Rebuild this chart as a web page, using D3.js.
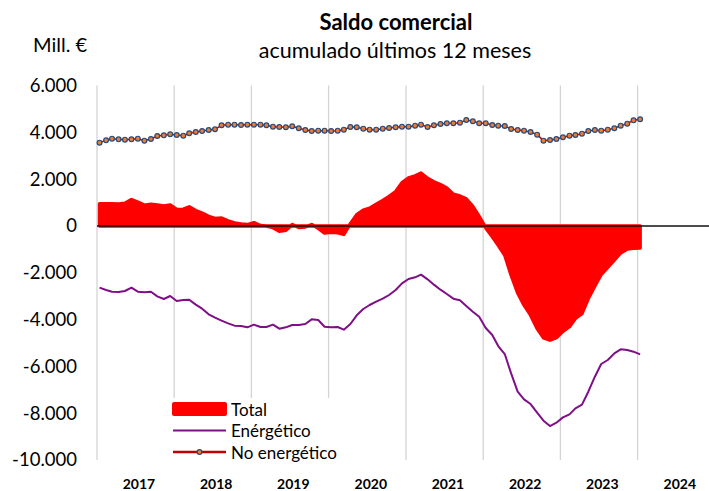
<!DOCTYPE html>
<html>
<head>
<meta charset="utf-8">
<script src="https://cdn.jsdelivr.net/npm/d3@7"></script>
<style>
  body { margin: 0; background: #fff; }
  svg { display: block; font-family: Lato, "Liberation Sans", sans-serif; }
</style>
</head>
<body>
<svg id="chart" width="709" height="491"></svg>
<script>
// DATOS (mensual, ene-2017 .. ene-2024), mill. €
////////////////////////////
var anios = [2017, 2018, 2019, 2020, 2021, 2022, 2023, 2024];
var ticksY = [6000, 4000, 2000, 0, -2000, -4000, -6000, -8000, -10000];

var total = [950, 950, 950, 940, 970, 1130, 1020, 890, 930, 900,
  860, 900, 710, 720, 820, 660, 550, 410, 320, 340,
  220, 130, 90, 60, 140, 20, 0, -70, -220, -180,
  60, -60, -40, 60, -100, -300, -270, -290, -360, 100,
  480, 680, 760, 930, 1090, 1260, 1470,
  1850, 2050, 2140, 2260, 2040, 1890, 1770, 1620, 1360, 1280,
  1160, 840, 410, -80, -460, -820, -1250, -2100, -2860, -3380,
  -3810, -4380, -4780, -4880, -4770, -4500, -4300, -3950, -3740, -3100,
  -2560, -2070, -1770, -1460, -1150, -980, -950, -940];

var energetico = [-2636, -2735, -2807, -2821, -2778, -2636, -2807, -2835, -2807, -3006,
  -3120, -2992, -3206, -3163, -3149, -3362, -3533, -3775, -3918, -4046,
  -4160, -4260, -4274, -4331, -4217, -4317, -4317, -4217, -4388, -4331,
  -4231, -4231, -4189, -3989, -4018, -4303, -4331, -4317, -4431, -4189,
  -3818, -3547, -3376, -3234, -3106, -2949, -2735, -2450, -2265,
  -2194, -2080, -2279, -2507, -2721, -2906, -3106, -3177, -3419, -3661,
  -3875, -4359, -4659, -5129, -5471, -6297, -7081, -7408, -7608, -7978,
  -8320, -8548, -8406, -8178, -8050, -7793, -7636, -7081, -6440, -5898,
  -5727, -5442, -5271, -5300, -5371, -5485];

var noEnergetico = [3562, 3661, 3732, 3704, 3690, 3704, 3732, 3647, 3718, 3847,
  3875, 3918, 3889, 3861, 3961, 4018, 4060, 4103, 4132, 4303,
  4331, 4331, 4317, 4331, 4331, 4331, 4303, 4246, 4231, 4217,
  4260, 4175, 4103, 4060, 4075, 4075, 4060, 4075, 4117, 4231,
  4217, 4160, 4117, 4117, 4160, 4189, 4217,
  4246, 4246, 4288, 4331, 4231, 4303, 4360, 4388, 4388, 4417,
  4530, 4474, 4388, 4388, 4317, 4288, 4274, 4146, 4103, 4075,
  4018, 3904, 3647, 3676, 3718, 3790, 3861, 3889, 3946, 4060,
  4103, 4075, 4117, 4175, 4288, 4374, 4516, 4559];

var series = ['Total', 'Enérgético', 'No energético'];

// fechas: un punto por mes (a mitad de mes, como lo pinta Excel)
var fechas = d3.range(total.length).map(function(i) { return new Date(2017, i, 13); });


// SETUP
////////////////////////////
var svg = d3.select('#chart');
var margin = {left: 97, right: 715, top: 85.6, bottom: 460};

var x = d3.scaleTime()
    .domain([new Date(2017, 0, 1), new Date(2025, 0, 1)])
    .range([margin.left, margin.right]);

var y = d3.scaleLinear()
    .domain([-10000, 6000])
    .range([margin.bottom, margin.top]);

// separador de miles con punto
var es = d3.formatLocale({decimal: ',', thousands: '.', grouping: [3], currency: ['', ' €'], minus: '-'});
var fmt = es.format(',');

// gridlines verticales (una por año)
svg.append('g')
  .selectAll('line')
  .data(anios)
  .enter().append('line')
    .attr('x1', function(d) { return x(new Date(d, 0, 1)); })
    .attr('x2', function(d) { return x(new Date(d, 0, 1)); })
    .attr('y1', y(6000))
    .attr('y2', y(-10000))
    .style('stroke', '#d4d4d4')
    .style('stroke-width', 1.3);

// AREA Total
var area = d3.area()
    .x(function(d, i) { return x(fechas[i]); })
    .y0(y(0))
    .y1(function(d) { return y(d); });

svg.append('path')
  .datum(total)
  .attr('d', area)
  .style('fill', '#ff0000')
  .style('stroke', '#ff0000')
  .style('stroke-width', 3.5)
  .style('stroke-linejoin', 'round');

// linea del cero
svg.append('line')
  .attr('x1', margin.left)
  .attr('x2', margin.right)
  .attr('y1', y(0))
  .attr('y2', y(0))
  .style('stroke', '#111')
  .style('stroke-width', 1.4);

var linea = d3.line()
    .x(function(d, i) { return x(fechas[i]); })
    .y(function(d) { return y(d); });

// Energetico
svg.append('path')
  .datum(energetico)
  .attr('d', linea)
  .style('fill', 'none')
  .style('stroke', '#7f0f86')
  .style('stroke-width', 2)
  .style('stroke-linejoin', 'round');

// No energetico: linea + marcadores
svg.append('path')
  .datum(noEnergetico)
  .attr('d', linea)
  .style('fill', 'none')
  .style('stroke', '#c00000')
  .style('stroke-width', 1.5);

svg.append('g')
  .selectAll('circle')
  .data(noEnergetico)
  .enter().append('circle')
    .attr('cx', function(d, i) { return x(fechas[i]); })
    .attr('cy', function(d) { return y(d); })
    .attr('r', 2.4)
    .style('fill', '#ed7d31')
    .style('stroke', '#2b4a78')
    .style('stroke-width', 1.2);

// EJES
////////////////////////////
var ejeY = svg.append('g')
    .attr('transform', 'translate(' + 80 + ',0)')
    .call(d3.axisLeft(y).tickValues(ticksY).tickFormat(fmt).tickSize(0).tickPadding(3));
ejeY.select('.domain').remove();
ejeY.selectAll('text')
    .style('font-family', 'Lato, sans-serif')
    .style('font-size', '18.5px')
    .style('fill', '#000');

var ejeX = svg.append('g')
    .attr('transform', 'translate(0,' + 476 + ')')
    .call(d3.axisBottom(x)
      .tickValues(anios.map(function(a) { return new Date(a, 6, 16); }))
      .tickFormat(d3.timeFormat('%Y'))
      .tickSize(0));
ejeX.select('.domain').remove();
ejeX.selectAll('text')
    .style('font-family', 'Lato, sans-serif')
    .style('font-size', '14px')
    .style('font-weight', 'bold')
    .style('fill', '#000');

// TITULOS
////////////////////////////
svg.append('text')
  .attr('x', 396).attr('y', 30)
  .attr('text-anchor', 'middle')
  .style('font-size', '22px')
  .style('font-weight', 'bold')
  .text('Saldo comercial');

svg.append('text')
  .attr('x', 395).attr('y', 58)
  .attr('text-anchor', 'middle')
  .style('font-size', '21.5px')
  .text('acumulado últimos 12 meses');

svg.append('text')
  .attr('x', 33).attr('y', 52)
  .style('font-size', '20px')
  .text('Mill. €');

// LEYENDA
////////////////////////////
var leg = svg.append('g').attr('transform', 'translate(166,398)');
leg.append('rect')
  .attr('width', 180).attr('height', 64)
  .style('fill', '#fff');

series.forEach(function(nombre, i) {
  var cy = 11 + i * 21.5;
  if (i === 0) {
    leg.append('rect')
      .attr('x', 6).attr('y', cy - 7)
      .attr('width', 55).attr('height', 14)
      .attr('rx', 2)
      .style('fill', '#ff0000');
  } else if (i === 1) {
    leg.append('line')
      .attr('x1', 7).attr('x2', 60).attr('y1', cy).attr('y2', cy)
      .style('stroke', '#7f0f86').style('stroke-width', 2);
  } else {
    leg.append('line')
      .attr('x1', 7).attr('x2', 60).attr('y1', cy).attr('y2', cy)
      .style('stroke', '#c00000').style('stroke-width', 2.5);
    leg.append('circle')
      .attr('cx', 33.5).attr('cy', cy).attr('r', 2.4)
      .style('fill', '#ed7d31').style('stroke', '#2b4a78').style('stroke-width', 1.2);
  }
  leg.append('text')
    .attr('x', 65).attr('y', cy + 6.5)
    .style('font-size', '17px')
    .text(nombre);
});
</script>
</body>
</html>
